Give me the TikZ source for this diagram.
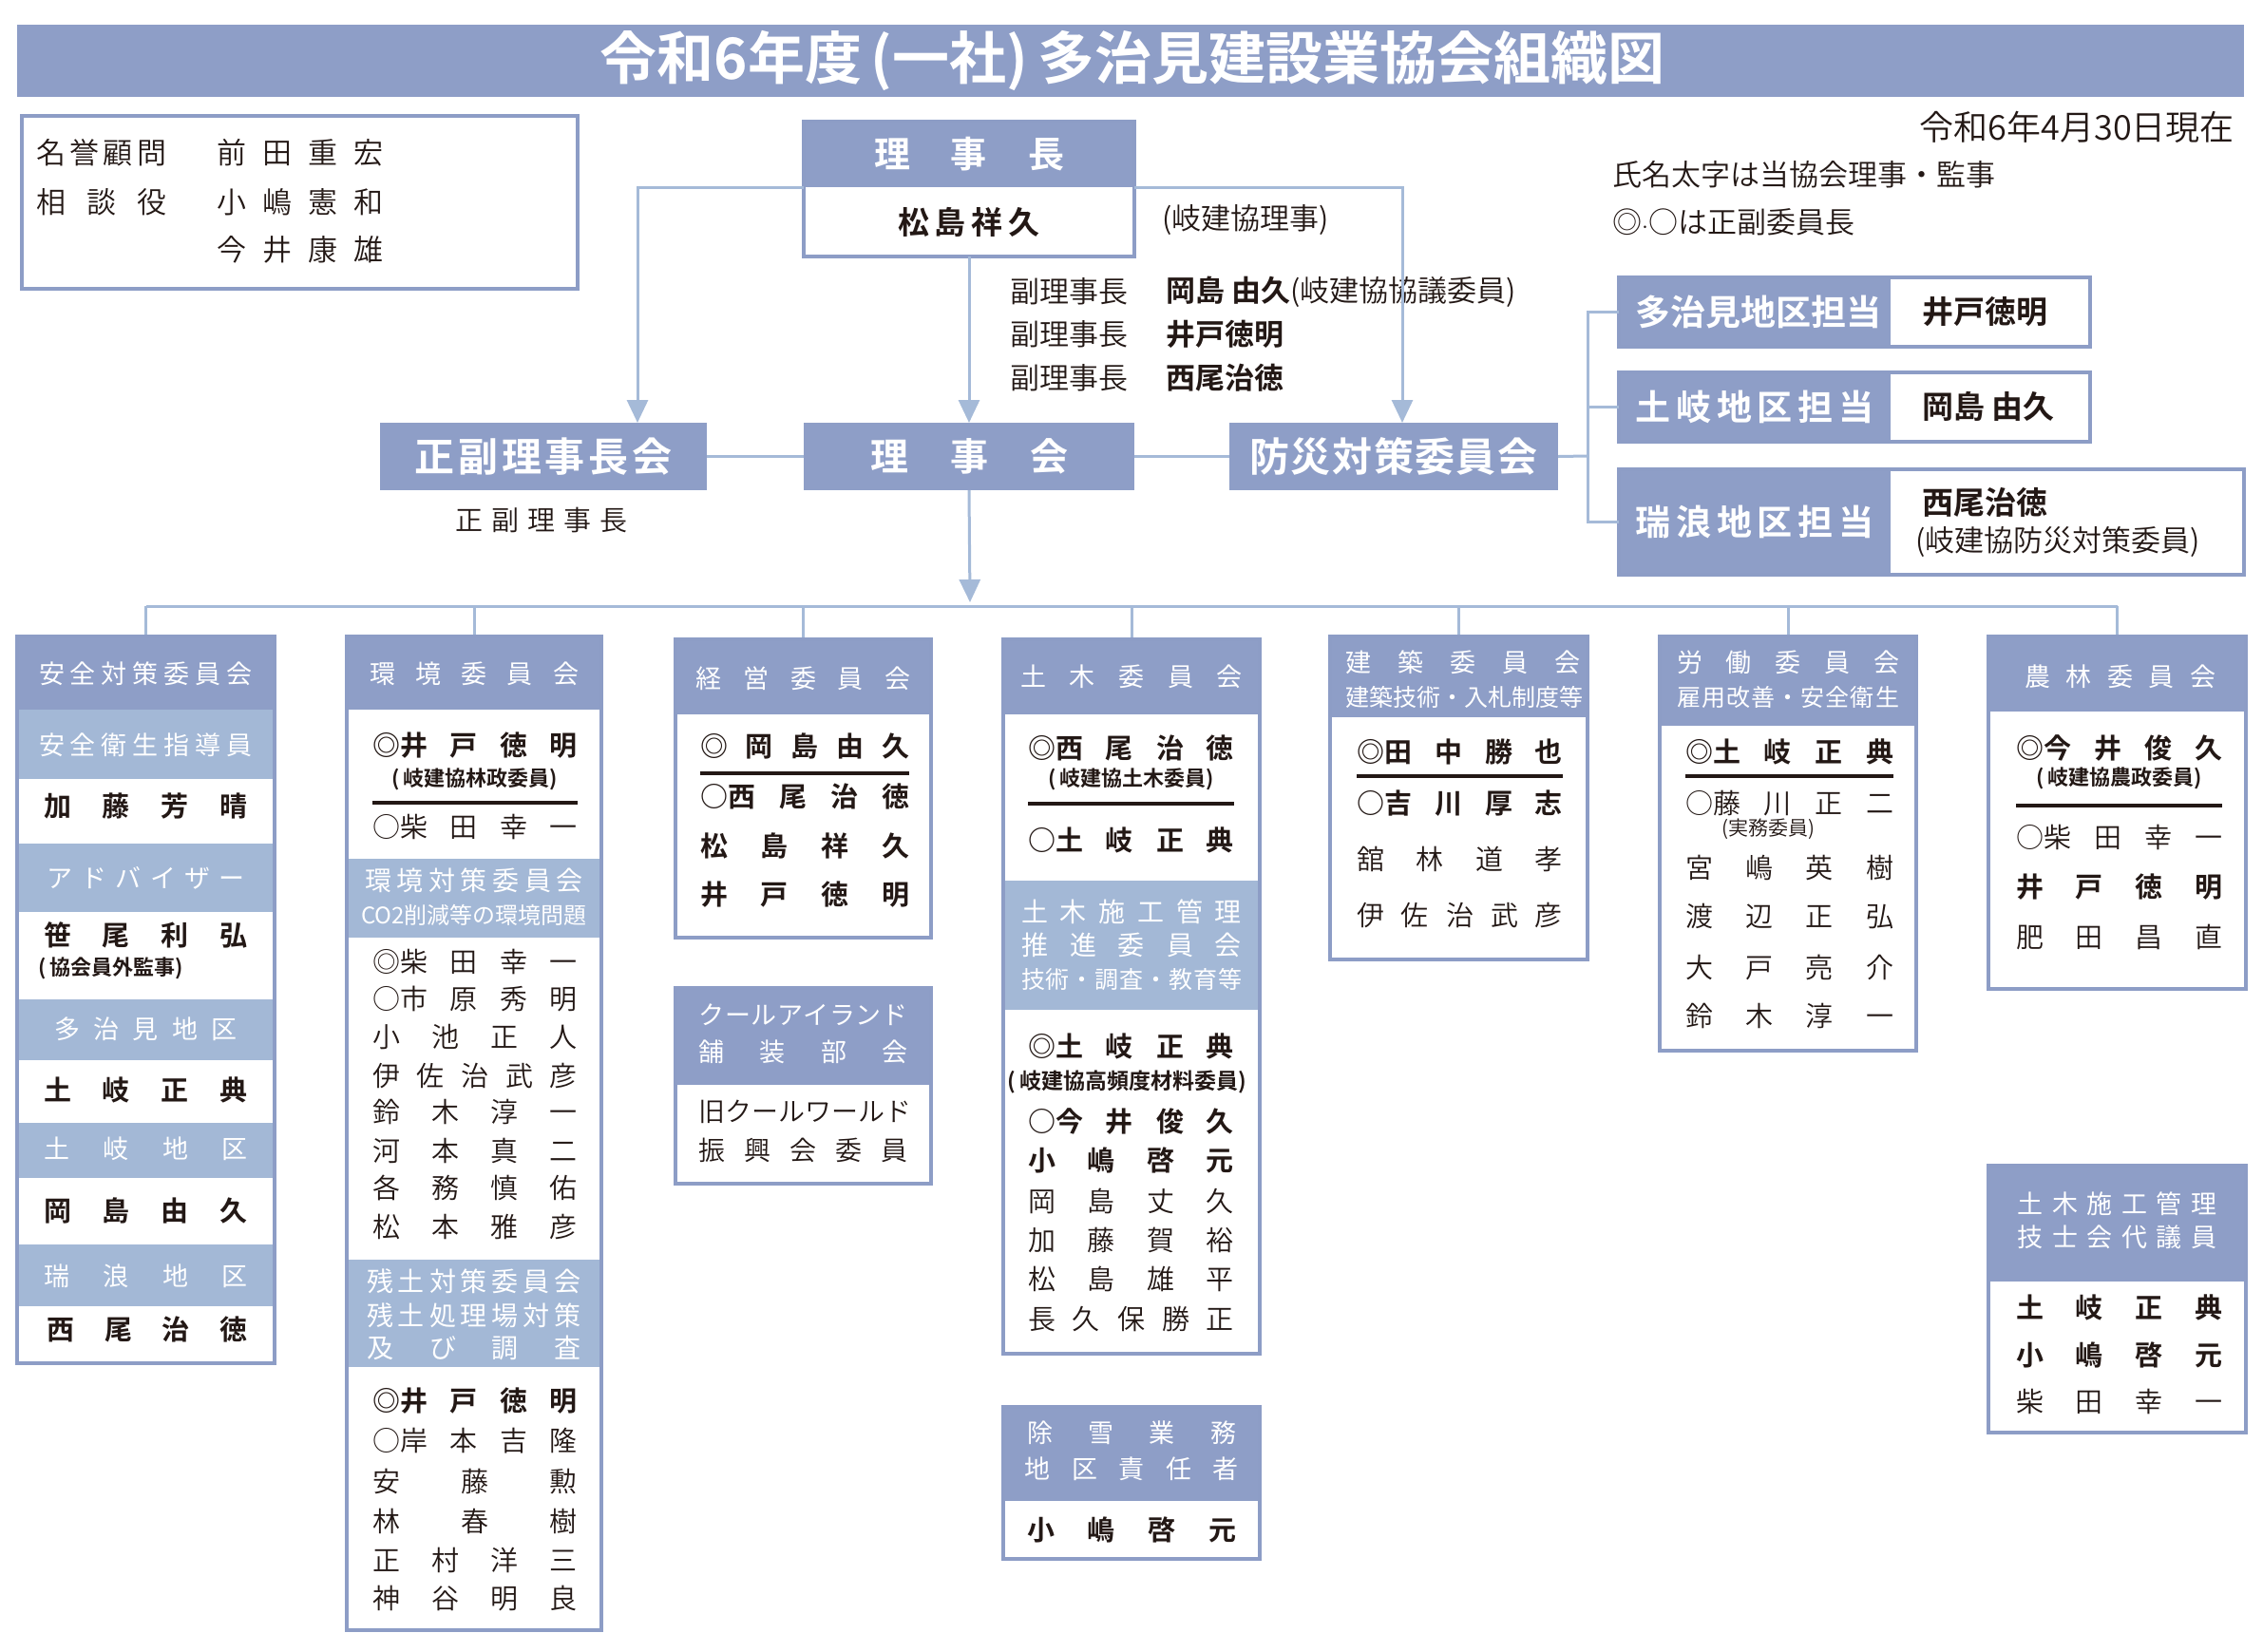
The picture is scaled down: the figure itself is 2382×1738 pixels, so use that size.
\documentclass[tikz,border=0pt]{standalone}
\usepackage{fontspec}
\setmainfont{Noto Sans CJK JP DemiLight}[BoldFont={Noto Sans CJK JP Bold}]
\newfontfamily\heavy{Noto Sans CJK JP Bold}
\newfontfamily\reg{Noto Sans CJK JP}
\usetikzlibrary{arrows.meta}
\definecolor{hd}{HTML}{8E9EC7}
\definecolor{lt}{HTML}{A3B8D6}
\definecolor{ln}{HTML}{A5BAD8}
\definecolor{bd}{HTML}{8D9DC6}
\definecolor{tx}{HTML}{231815}
\newcommand\fs[1]{\fontsize{#1pt}{#1pt}\selectfont}
\newcommand\spr[2]{\hbox to #1pt{#2}}
\newcommand\gp{\hfill}
\begin{document}
\begin{tikzpicture}[x=1pt,y=-1pt,
  R/.style={anchor=north west,inner sep=0pt,outer sep=0pt},
  hdbox/.style={fill=hd,draw=none},
  outl/.style={draw=bd,line width=3.5pt},
  conn/.style={draw=ln,line width=3pt},
  arr/.style={-{Triangle[length=24pt,width=22pt]}},
  wt/.style={text=white,inner sep=0pt},
  bk/.style={text=tx,inner sep=0pt},
  sepl/.style={draw=tx,line width=3.5pt},
  nmb/.style={bk,font=\fs{29}\bfseries},
  nmr/.style={bk,font=\fs{29}},
  hdt/.style={wt,font=\fs{27}\reg},
  smb/.style={bk,font=\fs{22}\bfseries},
]
\useasboundingbox (0,0) rectangle (2382,1738);
\fill[white] (0,0) rectangle (2382,1738);

% ---------- title
\node[R,hdbox,minimum width=2344pt,minimum height=76pt] (titlebar) at (18,26) {};
\node[wt,font=\fs{60}\heavy] (title) at (1192,64) {令和6年度\,(一社)\,多治見建設業協会組織図};

% ---------- honorary box
\draw[outl,line width=4pt] (23,122) rectangle (608,304);
\node[bk,font=\fs{31},anchor=west] (m1) at (38,161) {\spr{137}{名\gp 誉\gp 顧\gp 問}};
\node[bk,font=\fs{31},anchor=west] (m2) at (228,161) {\spr{175}{前\gp 田\gp 重\gp 宏}};
\node[bk,font=\fs{31},anchor=west] (m3) at (38,213) {\spr{137}{相\gp 談\gp 役}};
\node[bk,font=\fs{31},anchor=west] (m4) at (228,213) {\spr{175}{小\gp 嶋\gp 憲\gp 和}};
\node[bk,font=\fs{31},anchor=west] (m5) at (228,263) {\spr{175}{今\gp 井\gp 康\gp 雄}};

% ---------- top right notes
\node[bk,font=\fs{36},anchor=east] (date) at (2352,134) {令和6年4月30日現在};
\node[bk,font=\fs{31},anchor=west] (note1) at (1697,184) {氏名太字は当協会理事・監事};
\node[bk,font=\fs{31},anchor=west] (note2) at (1697,234) {◎$\cdot$○は正副委員長};

% ---------- chairman
\node[R,hdbox,minimum width=348pt,minimum height=69pt] (rjh) at (846,128) {};
\node[wt,font=\fs{38}\heavy] (rjht) at (rjh.center) {\spr{200}{理\gp 事\gp 長}};
\node[R,fill=white,minimum width=348pt,minimum height=73pt] (rjn) at (846,197) {};
\draw[outl] (846,128) rectangle (1194,270);
\node[bk,font=\fs{33}\bfseries] (rjnt) at (rjn.center) {\spr{150}{松\gp 島\gp 祥\gp 久}};
\node[bk,font=\fs{31},anchor=west] (gk) at (1223,232) {(岐建協理事)};

% vice chairs
\node[bk,font=\fs{31},anchor=west] (v1) at (1063,307) {副理事長};
\node[bk,font=\fs{31},anchor=west] (v2) at (1063,352) {副理事長};
\node[bk,font=\fs{31},anchor=west] (v3) at (1063,398) {副理事長};
\node[bk,font=\fs{31},anchor=west] (v1n) at (1227,307) {\textbf{岡島 由久}(岐建協協議委員)};
\node[bk,font=\fs{31}\bfseries,anchor=west] (v2n) at (1227,352) {井戸徳明};
\node[bk,font=\fs{31}\bfseries,anchor=west] (v3n) at (1227,398) {西尾治徳};

% ---------- row of councils
\node[R,hdbox,minimum width=344pt,minimum height=71pt] (seifuku) at (400,445) {};
\node[wt,font=\fs{42}\heavy] (seifukut) at (seifuku.center) {\spr{271}{正\gp 副\gp 理\gp 事\gp 長\gp 会}};
\node[R,hdbox,minimum width=348pt,minimum height=71pt] (rijikai) at (846,445) {};
\node[wt,font=\fs{40}\heavy] (rijikait) at (rijikai.center) {\spr{208}{理\gp 事\gp 会}};
\node[R,hdbox,minimum width=346pt,minimum height=71pt] (bousai) at (1294,445) {};
\node[wt,font=\fs{42}\heavy] (bousait) at (bousai.center) {\spr{303}{防\gp 災\gp 対\gp 策\gp 委\gp 員\gp 会}};
\node[bk,font=\fs{29}] (sfl) at (570,547) {\spr{182}{正\gp 副\gp 理\gp 事\gp 長}};

\coordinate (la) at (671,445);
\coordinate (ra) at (1476,445);
\draw[conn,arr] (rjh.south west) -| (la);
\draw[conn,arr] (rjh.south east) -| (ra);
\draw[conn,arr] (rjn.south) -- (rijikai.north);
\draw[conn] (seifuku.east) -- (rijikai.west);
\draw[conn] (rijikai.east) -- (bousai.west);

% ---------- district boxes
\node[R,hdbox,minimum width=286pt,minimum height=73pt] (tjH) at (1704,292) {};
\node[R,minimum width=210pt,minimum height=73pt] (tjN) at (1990,292) {};
\draw[outl] (1704,292) rectangle (2200,365);
\node[wt,font=\fs{37}\heavy] (tjHt) at (tjH.center) {\spr{251}{多\gp 治\gp 見\gp 地\gp 区\gp 担\gp 当}};
\node[bk,font=\fs{33}\bfseries,anchor=west] (tjNt) at (2023,328) {井戸徳明};

\node[R,hdbox,minimum width=286pt,minimum height=73pt] (tkH) at (1704,392) {};
\node[R,minimum width=210pt,minimum height=73pt] (tkN) at (1990,392) {};
\draw[outl] (1704,392) rectangle (2200,465);
\node[wt,font=\fs{37}\heavy] (tkHt) at (tkH.center) {\spr{251}{土\gp 岐\gp 地\gp 区\gp 担\gp 当}};
\node[bk,font=\fs{33}\bfseries,anchor=west] (tkNt) at (2023,428) {岡島 由久};

\node[R,hdbox,minimum width=286pt,minimum height=111pt] (mzH) at (1704,494) {};
\node[R,minimum width=372pt,minimum height=111pt] (mzN) at (1990,494) {};
\draw[outl] (1704,494) rectangle (2362,605);
\node[wt,font=\fs{37}\heavy] (mzHt) at (mzH.center) {\spr{251}{瑞\gp 浪\gp 地\gp 区\gp 担\gp 当}};
\node[bk,font=\fs{33}\bfseries,anchor=west] (mzNt) at (2023,529) {西尾治徳};
\node[bk,font=\fs{31},anchor=west] (mzNt2) at (2016,570) {(岐建協防災対策委員)};

\coordinate (brk) at (1671,480);
\draw[conn] (bousai.east) -- (brk);
\draw[conn] (tjH.west) -| (brk);
\draw[conn] (mzH.west) -| (brk);
\draw[conn] (tkH.west) -- (tkH.west -| brk);

% ---------- committees: headers
\node[R,hdbox,minimum width=271pt,minimum height=77pt] (hA) at (18,670) {};
\node[R,hdbox,minimum width=268pt,minimum height=77pt] (hB) at (365,670) {};
\node[R,hdbox,minimum width=269pt,minimum height=79pt] (hC) at (711,673) {};
\node[R,hdbox,minimum width=270pt,minimum height=79pt] (hD) at (1056,673) {};
\node[R,hdbox,minimum width=271pt,minimum height=85pt] (hE) at (1400,670) {};
\node[R,hdbox,minimum width=270pt,minimum height=94pt] (hF) at (1747,670) {};
\node[R,hdbox,minimum width=271pt,minimum height=79pt] (hG) at (2093,670) {};

% bus
\coordinate (bus) at (1021,638);
\coordinate (busarr) at (1021,634);
\draw[conn,arr] (rijikai.south) -- (busarr);
\draw[conn] (hA.north |- bus) -- (hG.north |- bus);
\foreach \n in {hA,hB,hC,hD,hE,hF,hG} \draw[conn] (\n.north |- bus) -- (\n.north);

% ---------- Box A
\fill[lt] (18,747) rectangle (289,820);
\fill[lt] (18,888) rectangle (289,960);
\fill[lt] (18,1052) rectangle (289,1116);
\fill[lt] (18,1182) rectangle (289,1240);
\fill[lt] (18,1310) rectangle (289,1375);
\draw[outl] (18,670) rectangle (289,1435);
\node[hdt] (a1) at (153.5,709) {\spr{225}{安\gp 全\gp 対\gp 策\gp 委\gp 員\gp 会}};
\node[hdt] (a2) at (153.5,784) {\spr{225}{安\gp 全\gp 衛\gp 生\gp 指\gp 導\gp 員}};
\node[nmb] (a3) at (153.5,849) {\spr{215}{加\gp 藤\gp 芳\gp 晴}};
\node[hdt] (a4) at (153.5,924) {\spr{209}{ア\gp ド\gp バ\gp イ\gp ザ\gp ー}};
\node[nmb] (a5) at (153.5,984) {\spr{215}{笹\gp 尾\gp 利\gp 弘}};
\node[smb,anchor=west] (a6) at (40,1019) {(\,協会員外監事)};
\node[hdt] (a7) at (153.5,1083) {\spr{192}{多\gp 治\gp 見\gp 地\gp 区}};
\node[nmb] (a8) at (153.5,1147) {\spr{215}{土\gp 岐\gp 正\gp 典}};
\node[hdt] (a9) at (153.5,1209) {\spr{215}{土\gp 岐\gp 地\gp 区}};
\node[nmb] (a10) at (153.5,1274) {\spr{215}{岡\gp 島\gp 由\gp 久}};
\node[hdt] (a11) at (153.5,1343) {\spr{215}{瑞\gp 浪\gp 地\gp 区}};
\node[nmb] (a12) at (155,1399) {\spr{211}{西\gp 尾\gp 治\gp 徳}};

% ---------- Box B
\fill[lt] (365,904) rectangle (633,987);
\fill[lt] (365,1326) rectangle (633,1439);
\draw[outl] (365,670) rectangle (633,1716);
\node[hdt] (b1) at (499,709) {\spr{220}{環\gp 境\gp 委\gp 員\gp 会}};
\node[nmb] (b2) at (500,785) {\spr{216}{◎井\gp 戸\gp 徳\gp 明}};
\node[smb] (b3) at (500,820) {(\,岐建協林政委員)};
\draw[sepl] (392,845) -- (608,845);
\node[nmr] (b4) at (500,870) {\spr{216}{○柴\gp 田\gp 幸\gp 一}};
\node[hdt,font=\fs{28}\reg] (b5) at (499,927) {\spr{229}{環\gp 境\gp 対\gp 策\gp 委\gp 員\gp 会}};
\node[hdt,font=\fs{24}\reg] (b6) at (499,963) {CO2削減等の環境問題};
\node[nmr] (b7) at (500,1012) {\spr{216}{◎柴\gp 田\gp 幸\gp 一}};
\node[nmr] (b8) at (500,1051) {\spr{216}{○市\gp 原\gp 秀\gp 明}};
\node[nmr] (b9) at (500,1091) {\spr{216}{小\gp 池\gp 正\gp 人}};
\node[nmr] (b10) at (500,1132) {\spr{216}{伊\gp 佐\gp 治\gp 武\gp 彦}};
\node[nmr] (b11) at (500,1170) {\spr{216}{鈴\gp 木\gp 淳\gp 一}};
\node[nmr] (b12) at (500,1211) {\spr{216}{河\gp 本\gp 真\gp 二}};
\node[nmr] (b13) at (500,1250) {\spr{216}{各\gp 務\gp 慎\gp 佑}};
\node[nmr] (b14) at (500,1291) {\spr{216}{松\gp 本\gp 雅\gp 彦}};
\node[hdt,font=\fs{28}\reg] (b15) at (499,1349) {\spr{226}{残\gp 土\gp 対\gp 策\gp 委\gp 員\gp 会}};
\node[hdt,font=\fs{28}\reg] (b16) at (499,1385) {\spr{226}{残\gp 土\gp 処\gp 理\gp 場\gp 対\gp 策}};
\node[hdt,font=\fs{28}\reg] (b17) at (499,1419) {\spr{226}{及\gp び\gp 調\gp 査}};
\node[nmb] (b18) at (500,1475) {\spr{216}{◎井\gp 戸\gp 徳\gp 明}};
\node[nmr] (b19) at (500,1517) {\spr{216}{○岸\gp 本\gp 吉\gp 隆}};
\node[nmr] (b20) at (500,1559) {\spr{216}{安\gp 藤\gp 勲}};
\node[nmr] (b21) at (500,1601) {\spr{216}{林\gp 春\gp 樹}};
\node[nmr] (b22) at (500,1642) {\spr{216}{正\gp 村\gp 洋\gp 三}};
\node[nmr] (b23) at (500,1683) {\spr{216}{神\gp 谷\gp 明\gp 良}};

% ---------- Box C
\draw[outl] (711,673) rectangle (980,987);
\node[hdt] (c1) at (845.5,714) {\spr{226}{経\gp 営\gp 委\gp 員\gp 会}};
\node[nmb] (c2) at (847,785) {\spr{220}{◎\gp 岡\gp 島\gp 由\gp 久}};
\draw[sepl] (737,814) -- (957,814);
\node[nmb] (c3) at (847,838) {\spr{220}{○西\gp 尾\gp 治\gp 徳}};
\node[nmb] (c4) at (847,890) {\spr{220}{松\gp 島\gp 祥\gp 久}};
\node[nmb] (c5) at (847,942) {\spr{220}{井\gp 戸\gp 徳\gp 明}};
\node[R,hdbox,minimum width=269pt,minimum height=102pt] (hC2) at (711,1040) {};
\draw[outl] (711,1040) rectangle (980,1246);
\node[hdt] (c6) at (845.5,1068) {\spr{220}{ク\gp ー\gp ル\gp ア\gp イ\gp ラ\gp ン\gp ド}};
\node[hdt] (c7) at (845.5,1107) {\spr{220}{舗\gp 装\gp 部\gp 会}};
\node[nmr,font=\fs{28}] (c8) at (845.5,1170) {\spr{220}{旧\gp ク\gp ー\gp ル\gp ワ\gp ー\gp ル\gp ド}};
\node[nmr,font=\fs{28}] (c9) at (845.5,1211) {\spr{220}{振\gp 興\gp 会\gp 委\gp 員}};

% ---------- Box D
\fill[lt] (1056,927) rectangle (1326,1063);
\draw[outl] (1056,673) rectangle (1326,1425);
\node[hdt] (d1) at (1191,712) {\spr{234}{土\gp 木\gp 委\gp 員\gp 会}};
\node[nmb] (d2) at (1190.5,787) {\spr{217}{◎西\gp 尾\gp 治\gp 徳}};
\node[smb] (d3) at (1190.5,820) {(\,岐建協土木委員)};
\draw[sepl] (1082,846) -- (1299,846);
\node[nmb] (d4) at (1190.5,884) {\spr{217}{○土\gp 岐\gp 正\gp 典}};
\node[hdt,font=\fs{28}\reg] (d5) at (1191,960) {\spr{232}{土\gp 木\gp 施\gp 工\gp 管\gp 理}};
\node[hdt,font=\fs{28}\reg] (d6) at (1191,995) {\spr{232}{推\gp 進\gp 委\gp 員\gp 会}};
\node[hdt,font=\fs{25}\reg] (d7) at (1191,1031) {\spr{232}{技\gp 術\gp ・\gp 調\gp 査\gp ・\gp 教\gp 育\gp 等}};
\node[nmb] (d8) at (1190.5,1101) {\spr{217}{◎土\gp 岐\gp 正\gp 典}};
\node[smb,font=\fs{23}\bfseries] (d9) at (1189,1139) {\spr{257}{(\,岐建協高頻度材料委員)}};
\node[nmb] (d10) at (1190.5,1180) {\spr{217}{○今\gp 井\gp 俊\gp 久}};
\node[nmb] (d11) at (1190.5,1221) {\spr{217}{小\gp 嶋\gp 啓\gp 元}};
\node[nmr] (d12) at (1190.5,1264) {\spr{217}{岡\gp 島\gp 丈\gp 久}};
\node[nmr] (d13) at (1190.5,1305) {\spr{217}{加\gp 藤\gp 賀\gp 裕}};
\node[nmr] (d14) at (1190.5,1346) {\spr{217}{松\gp 島\gp 雄\gp 平}};
\node[nmr] (d15) at (1190.5,1388) {\spr{217}{長\gp 久\gp 保\gp 勝\gp 正}};
\node[R,hdbox,minimum width=270pt,minimum height=99pt] (hD2) at (1056,1481) {};
\draw[outl] (1056,1481) rectangle (1326,1641);
\node[hdt] (d16) at (1191,1508) {\spr{220}{除\gp 雪\gp 業\gp 務}};
\node[hdt] (d17) at (1191,1546) {\spr{225}{地\gp 区\gp 責\gp 任\gp 者}};
\node[nmb] (d18) at (1191,1610) {\spr{220}{小\gp 嶋\gp 啓\gp 元}};

% ---------- Box E
\draw[outl] (1400,670) rectangle (1671,1010);
\node[hdt] (e1) at (1539.5,697) {\spr{247}{建\gp 築\gp 委\gp 員\gp 会}};
\node[hdt,font=\fs{25}\reg] (e2) at (1539.5,734) {\spr{247}{建\gp 築\gp 技\gp 術\gp ・\gp 入\gp 札\gp 制\gp 度\gp 等}};
\node[nmb] (e3) at (1536.5,791) {\spr{217}{◎田\gp 中\gp 勝\gp 也}};
\draw[sepl] (1428,817) -- (1645,817);
\node[nmb] (e4) at (1536.5,846) {\spr{217}{○吉\gp 川\gp 厚\gp 志}};
\node[nmr] (e5) at (1536.5,904) {\spr{217}{舘\gp 林\gp 道\gp 孝}};
\node[nmr] (e6) at (1536.5,963) {\spr{217}{伊\gp 佐\gp 治\gp 武\gp 彦}};

% ---------- Box F
\draw[outl] (1747,670) rectangle (2017,1106);
\node[hdt] (f1) at (1882,697) {\spr{234}{労\gp 働\gp 委\gp 員\gp 会}};
\node[hdt,font=\fs{25}\reg] (f2) at (1882,734) {\spr{234}{雇\gp 用\gp 改\gp 善\gp ・\gp 安\gp 全\gp 衛\gp 生}};
\node[nmb] (f3) at (1883.5,791) {\spr{219}{◎土\gp 岐\gp 正\gp 典}};
\draw[sepl] (1774,817) -- (1993,817);
\node[nmr] (f4) at (1883.5,846) {\spr{219}{○藤\gp 川\gp 正\gp 二}};
\node[bk,font=\fs{21}] (f5) at (1861,873) {(実務委員)};
\node[nmr] (f6) at (1883.5,913) {\spr{219}{宮\gp 嶋\gp 英\gp 樹}};
\node[nmr] (f7) at (1883.5,965) {\spr{219}{渡\gp 辺\gp 正\gp 弘}};
\node[nmr] (f8) at (1883.5,1018) {\spr{219}{大\gp 戸\gp 亮\gp 介}};
\node[nmr] (f9) at (1883.5,1069) {\spr{219}{鈴\gp 木\gp 淳\gp 一}};

% ---------- Box G
\draw[outl] (2093,670) rectangle (2364,1041);
\node[hdt] (g1) at (2231.5,712) {\spr{201}{農\gp 林\gp 委\gp 員\gp 会}};
\node[nmb] (g2) at (2230.5,787) {\spr{217}{◎今\gp 井\gp 俊\gp 久}};
\node[smb] (g3) at (2230.5,819) {(\,岐建協農政委員)};
\draw[sepl] (2122,848) -- (2339,848);
\node[nmr] (g4) at (2230.5,881) {\spr{217}{○柴\gp 田\gp 幸\gp 一}};
\node[nmb] (g5) at (2230.5,934) {\spr{217}{井\gp 戸\gp 徳\gp 明}};
\node[nmr] (g6) at (2230.5,986) {\spr{217}{肥\gp 田\gp 昌\gp 直}};

% ---------- Box H
\node[R,hdbox,minimum width=271pt,minimum height=122pt] (hH) at (2093,1227) {};
\draw[outl] (2093,1227) rectangle (2364,1508);
\node[hdt] (h1) at (2228.5,1267) {\spr{210}{土\gp 木\gp 施\gp 工\gp 管\gp 理}};
\node[hdt] (h2) at (2228.5,1302) {\spr{210}{技\gp 士\gp 会\gp 代\gp 議\gp 員}};
\node[nmb] (h3) at (2230.5,1376) {\spr{217}{土\gp 岐\gp 正\gp 典}};
\node[nmb] (h4) at (2230.5,1426) {\spr{217}{小\gp 嶋\gp 啓\gp 元}};
\node[nmr] (h5) at (2230.5,1475) {\spr{217}{柴\gp 田\gp 幸\gp 一}};
\end{tikzpicture}
\end{document}
